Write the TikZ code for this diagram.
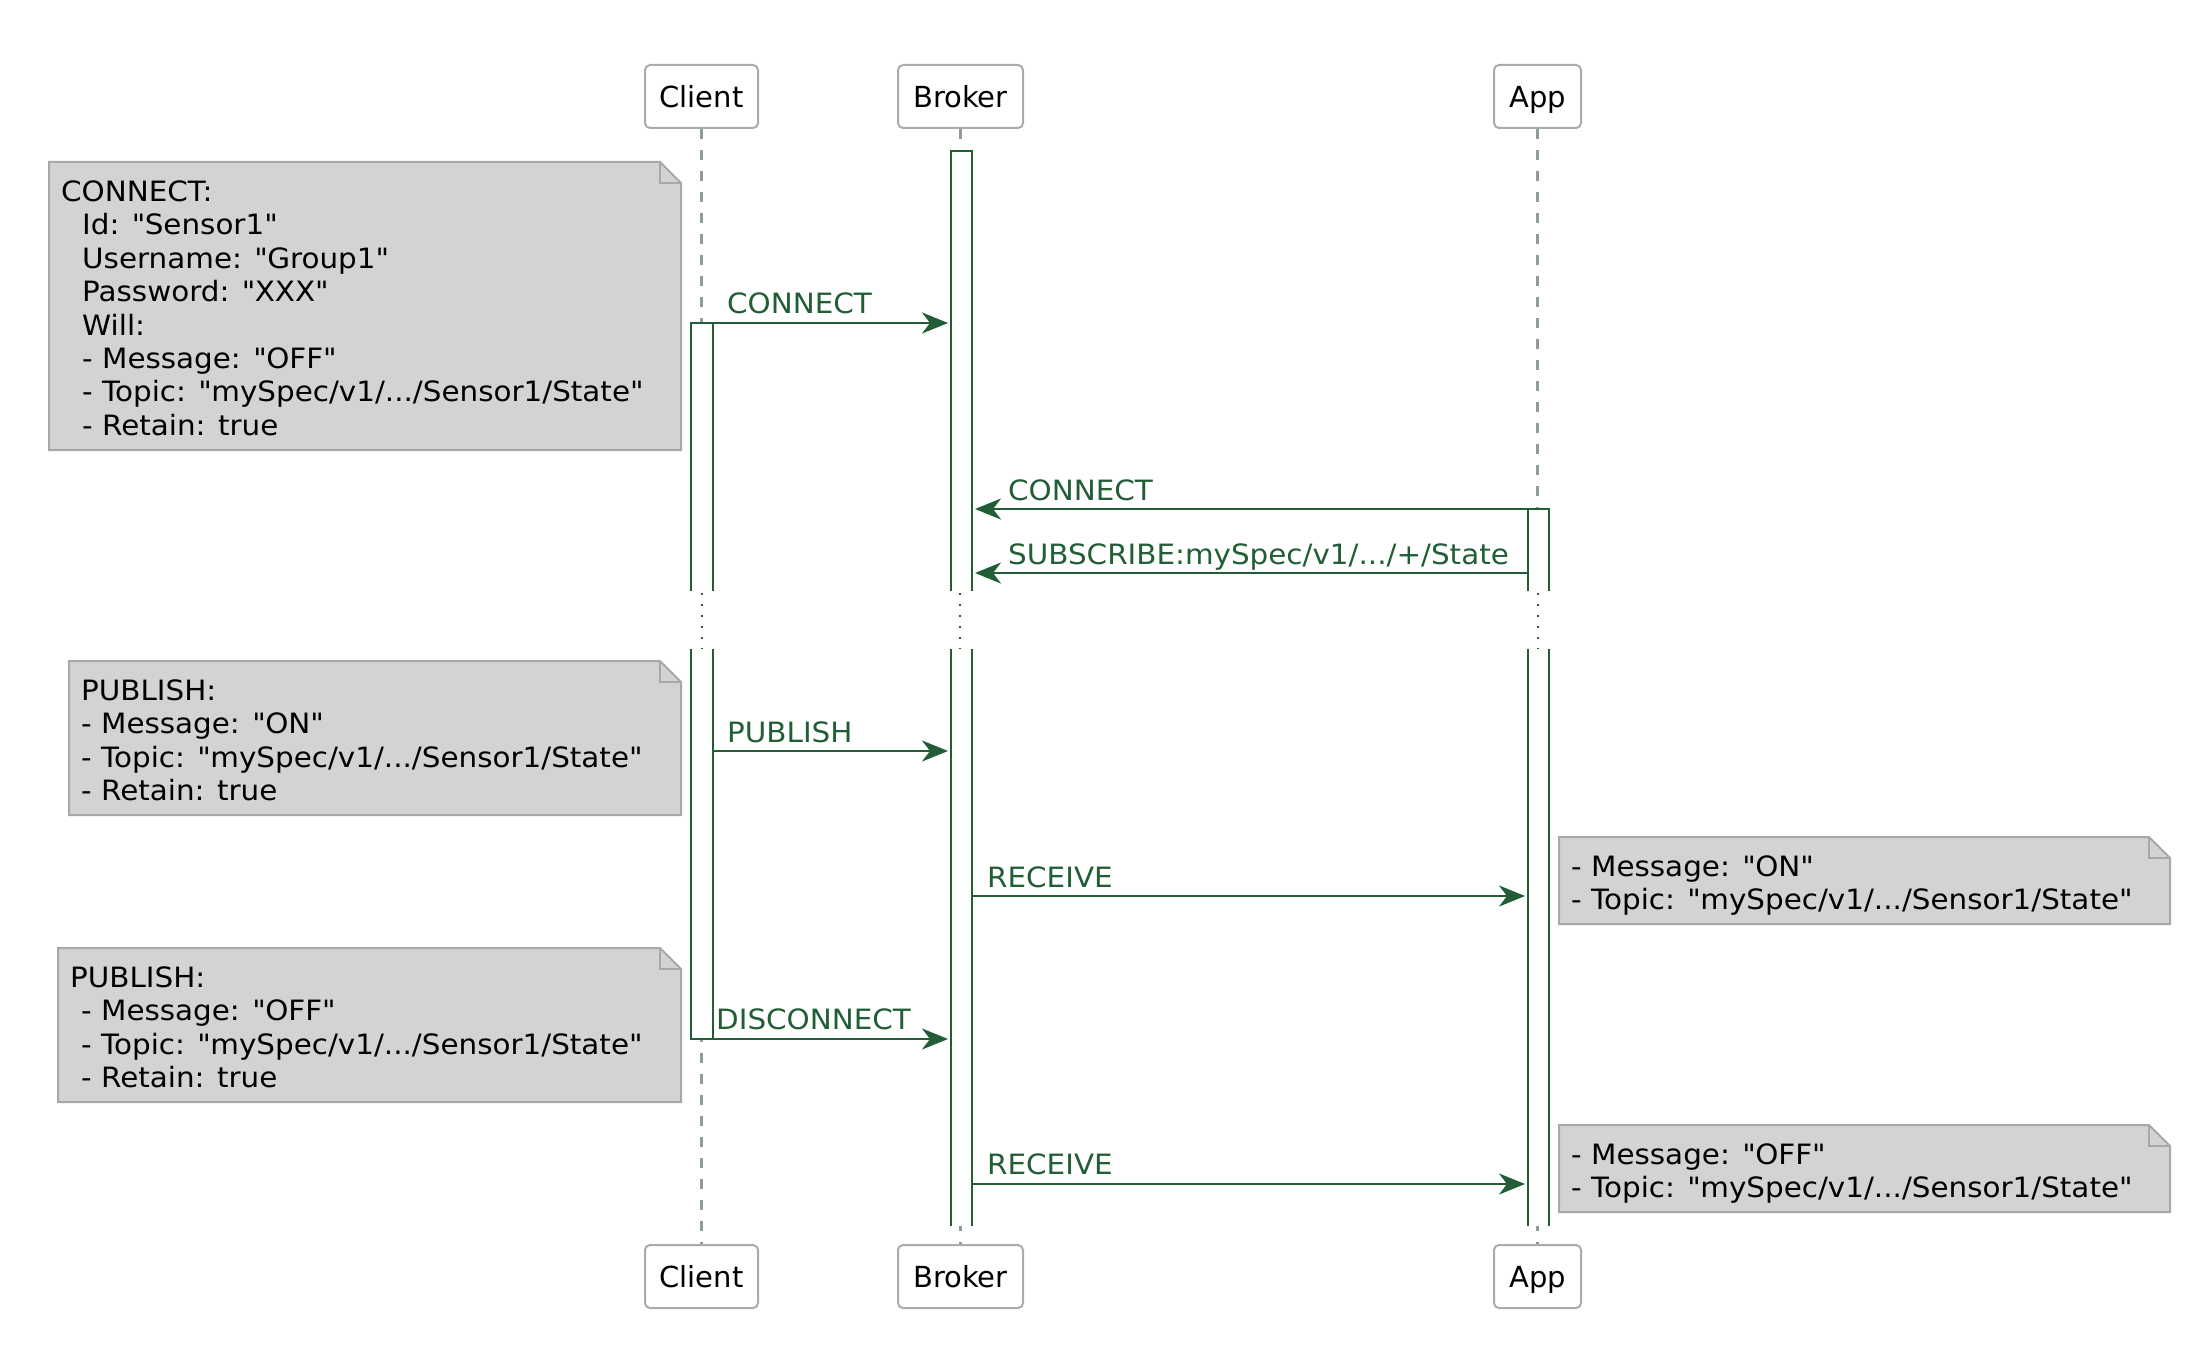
\documentclass[tikz,border=0pt]{standalone}
\usepackage{fontspec}
\setmainfont{DejaVu Sans}[FakeStretch=1.05]
\newfontfamily\partfont{DejaVu Sans}
\usetikzlibrary{arrows.meta}
\definecolor{arr}{HTML}{215E36}
\definecolor{notefill}{HTML}{D3D3D3}
\definecolor{noteline}{HTML}{A8A8A8}
\definecolor{life}{HTML}{8E9E92}
\definecolor{boxline}{HTML}{ABABAB}
\newcommand\q{\textquotedbl}
\newcommand\drawnote[4]{%
  \filldraw[notebox] (#1,#2) -- ({#3-21},#2) -- (#3,{#2+21}) -- (#3,#4) -- (#1,#4) -- cycle;
  \draw[notebox, fill=none] ({#3-21},#2) -- ({#3-21},{#2+21}) -- (#3,{#2+21});
}
\begin{document}
\begin{tikzpicture}[x=1pt,y=-1pt,
  part/.style={draw=boxline, line width=2pt, rounded corners=5pt, fill=white, minimum height=63pt, inner sep=0pt, text height=22pt, text depth=0pt, font=\partfont\fontsize{29}{35}\selectfont, text=black},
  lifeline/.style={draw=life, line width=2.2pt, dash pattern=on 10pt off 11pt},
  bar/.style={draw=arr, line width=2.4pt},
  breakdots/.style={draw=arr, line width=2.4pt, dash pattern=on 2.4pt off 8.6pt},
  msg/.style={draw=arr, line width=2.6pt, -{Stealth[length=26pt,width=21pt,inset=8pt]}},
  lbl/.style={anchor=base west, inner sep=0pt, text=arr, font=\fontsize{28}{33.4}\selectfont},
  notebox/.style={fill=notefill, draw=noteline, line width=2pt, line join=miter},
  notetext/.style={anchor=north west, inner sep=0pt, align=left, text=black, font=\fontsize{28}{33.4}\selectfont},
]
\useasboundingbox (0,0) rectangle (2210,1367);
\fill[white] (0,0) rectangle (2210,1367);

% participants
\node[part, minimum width=113pt] (cT) at (701.5,96.5) {Client};
\node[part, minimum width=125pt] (bT) at (960.5,96.5) {Broker};
\node[part, minimum width=87pt]  (aT) at (1537.5,96.5) {App};
\node[part, minimum width=113pt] (cB) at (701.5,1276.5) {Client};
\node[part, minimum width=125pt] (bB) at (960.5,1276.5) {Broker};
\node[part, minimum width=87pt]  (aB) at (1537.5,1276.5) {App};

% lifelines
\draw[lifeline] (cT.south) -- (cB.north);
\draw[lifeline] (bT.south) -- (bB.north);
\draw[lifeline] (aT.south) -- (aB.north);

% activation bars
\fill[white] (691,323) rectangle (713,1039);
\fill[white] (951,151) rectangle (972,1226);
\fill[white] (1528,509) rectangle (1549,1226);
\draw[bar] (691,591) -- (691,323) -- (713,323) -- (713,591);
\draw[bar] (691,649) -- (691,1039) -- (713,1039) -- (713,649);
\draw[bar] (951,591) -- (951,151) -- (972,151) -- (972,591);
\draw[bar] (951,649) -- (951,1226) (972,649) -- (972,1226);
\draw[bar] (1528,591) -- (1528,509) -- (1549,509) -- (1549,591);
\draw[bar] (1528,649) -- (1528,1226) (1549,649) -- (1549,1226);
\draw[breakdots] (702,593) -- (702,649);
\draw[breakdots] (960,593) -- (960,649);
\draw[breakdots] (1538,593) -- (1538,649);

% messages
\coordinate (m1a) at (691,323);  \coordinate (m1b) at (948,323);
\coordinate (m2a) at (1549,509); \coordinate (m2b) at (975,509);
\coordinate (m3a) at (1528,573); \coordinate (m3b) at (975,573);
\coordinate (m4a) at (713,751);  \coordinate (m4b) at (948,751);
\coordinate (m5a) at (972,896);  \coordinate (m5b) at (1525,896);
\coordinate (m6a) at (691,1039); \coordinate (m6b) at (948,1039);
\coordinate (m7a) at (972,1184); \coordinate (m7b) at (1525,1184);
\draw[msg] (m1a) -- (m1b);
\draw[msg] (m2a) -- (m2b);
\draw[msg] (m3a) -- (m3b);
\draw[msg] (m4a) -- (m4b);
\draw[msg] (m5a) -- (m5b);
\draw[msg] (m6a) -- (m6b);
\draw[msg] (m7a) -- (m7b);
\node[lbl] (l1) at (727,313) {CONNECT};
\node[lbl] (l2) at (1008,500) {CONNECT};
\node[lbl] (l3) at (1008,564) {SUBSCRIBE:mySpec/v1/.../+/State};
\node[lbl] (l4) at (727,742) {PUBLISH};
\node[lbl] (l5) at (987,887) {RECEIVE};
\node[lbl] (l6) at (716,1029) {DISCONNECT};
\node[lbl] (l7) at (987,1174) {RECEIVE};

% notes
\drawnote{49}{162}{681}{450}
\node[notetext] (n1) at (61,180.6) {CONNECT:\\
\hspace*{21pt}Id: \q Sensor1\q\\
\hspace*{21pt}Username: \q Group1\q\\
\hspace*{21pt}Password: \q XXX\q\\
\hspace*{21pt}Will:\\
\hspace*{21pt}- Message: \q OFF\q\\
\hspace*{21pt}- Topic: \q mySpec/v1/.../Sensor1/State\q\\
\hspace*{21pt}- Retain: true};

\drawnote{69}{661}{681}{815}
\node[notetext] (n2) at (81,679.6) {PUBLISH:\\
- Message: \q ON\q\\
- Topic: \q mySpec/v1/.../Sensor1/State\q\\
- Retain: true};

\drawnote{1559}{837}{2170}{924}
\node[notetext] (n3) at (1571,855.6) {- Message: \q ON\q\\
- Topic: \q mySpec/v1/.../Sensor1/State\q};

\drawnote{58}{948}{681}{1102}
\node[notetext] (n4) at (70,966.6) {PUBLISH:\\
\hspace*{11pt}- Message: \q OFF\q\\
\hspace*{11pt}- Topic: \q mySpec/v1/.../Sensor1/State\q\\
\hspace*{11pt}- Retain: true};

\drawnote{1559}{1125}{2170}{1212}
\node[notetext] (n5) at (1571,1143.6) {- Message: \q OFF\q\\
- Topic: \q mySpec/v1/.../Sensor1/State\q};
\end{tikzpicture}
\end{document}
